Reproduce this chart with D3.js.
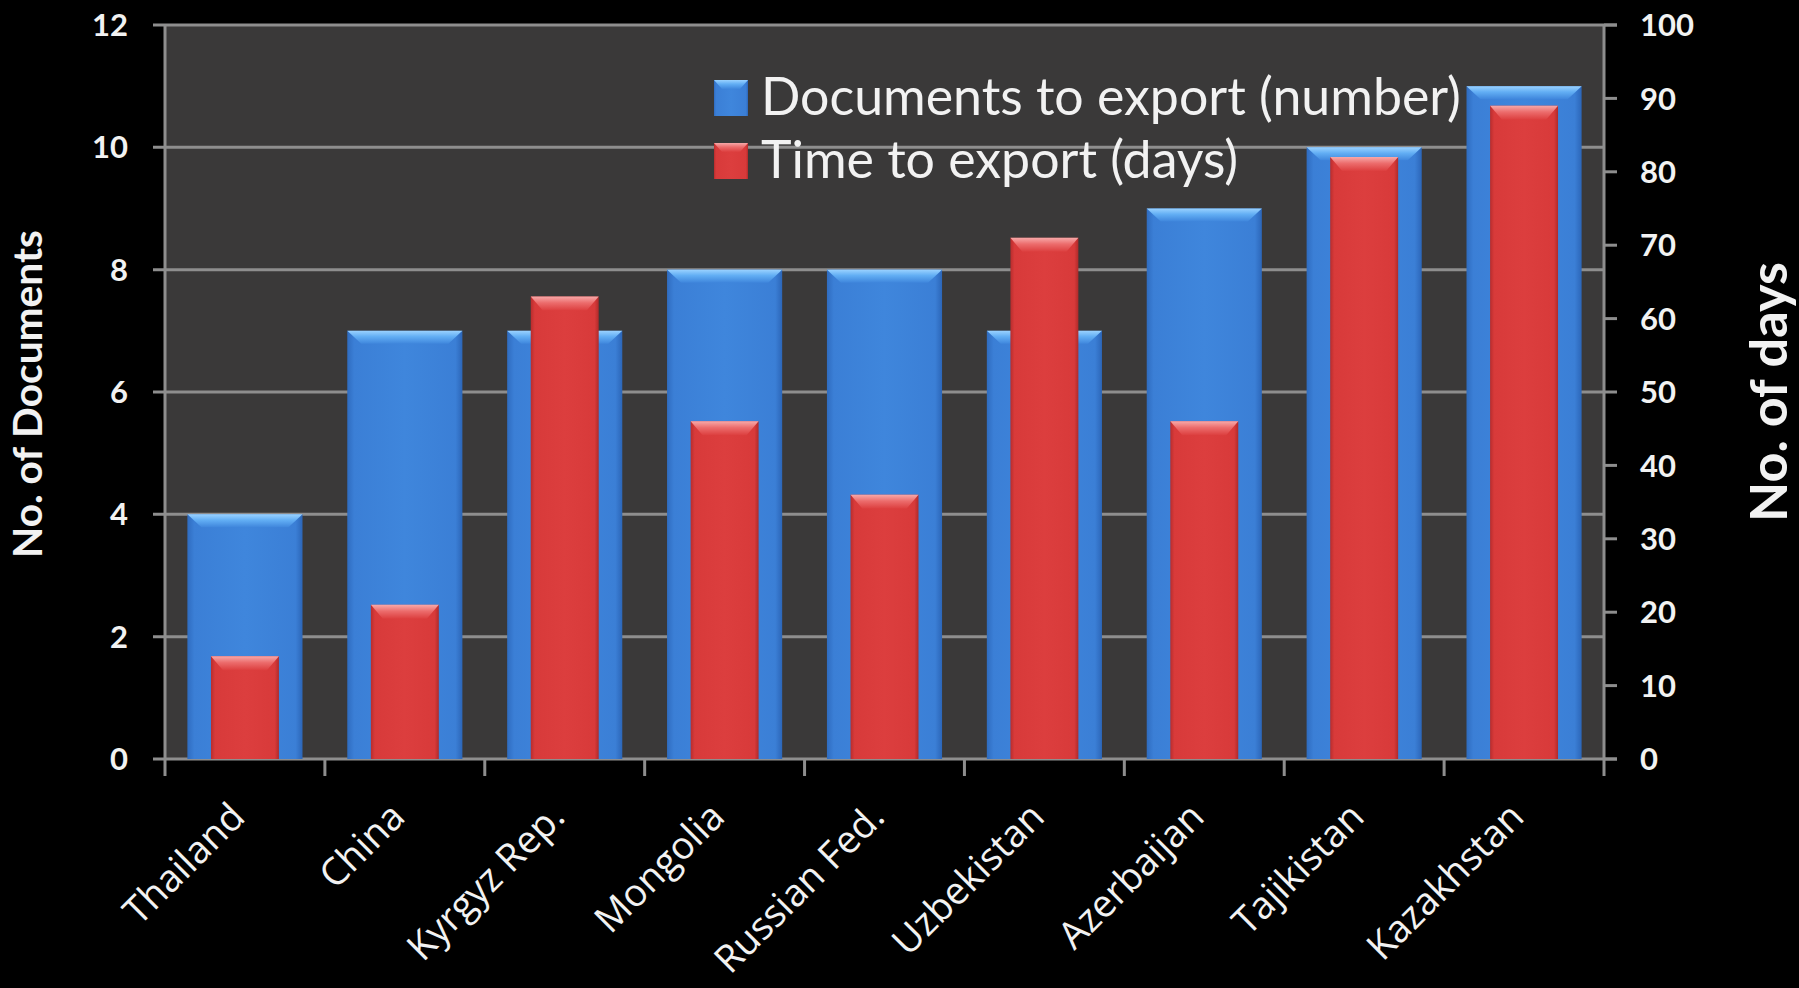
<!DOCTYPE html>
<html>
<head>
<meta charset="utf-8">
<script src="https://cdn.jsdelivr.net/npm/d3@7"></script>
<style>
  html, body { margin: 0; padding: 0; background: #000; }
  svg { display: block; }
  text { font-family: Lato, "Open Sans", sans-serif; fill: #f2f2f2; }
</style>
</head>
<body>
<svg id="chart" width="1799" height="988"></svg>
<script>
// ---- data ----
const categories = ["Thailand", "China", "Kyrgyz Rep.", "Mongolia", "Russian Fed.", "Uzbekistan", "Azerbaijan", "Tajikistan", "Kazakhstan"];
const documentsToExport = [4, 7, 7, 8, 8, 7, 9, 10, 11];
const timeToExport = [14, 21, 63, 46, 36, 71, 46, 82, 89];
const leftTicks = [0, 2, 4, 6, 8, 10, 12];
const rightTicks = [0, 10, 20, 30, 40, 50, 60, 70, 80, 90, 100];
const seriesNames = ["Documents to export (number)", "Time to export (days)"];
const leftTitle = "No. of Documents";
const rightTitle = "No. of days";

// ---- layout ----
const W = 1799, H = 988;
const plot = { left: 165, right: 1604, top: 25, bottom: 759 };
const svg = d3.select("#chart");

const defs = svg.append("defs");
function hGrad(id, stops) {
  const g = defs.append("linearGradient").attr("id", id).attr("x1", "0").attr("x2", "1").attr("y1", "0").attr("y2", "0");
  stops.forEach(s => g.append("stop").attr("offset", s[0]).attr("stop-color", s[1]));
}
function vGrad(id, stops) {
  const g = defs.append("linearGradient").attr("id", id).attr("x1", "0").attr("x2", "0").attr("y1", "0").attr("y2", "1");
  stops.forEach(s => g.append("stop").attr("offset", s[0]).attr("stop-color", s[1]));
}
hGrad("blueBody", [[0, "#2f6cc0"], [0.06, "#3b7fd6"], [0.5, "#3f86dc"], [0.94, "#3b7fd6"], [1, "#2c66b8"]]);
hGrad("redBody", [[0, "#b82d2d"], [0.06, "#d83a3a"], [0.5, "#dc3e3e"], [0.94, "#d83a3a"], [1, "#b02a2a"]]);
vGrad("blueTop", [[0, "#9ad2ff"], [0.45, "#62aef4"], [1, "#3f86dc"]]);
vGrad("redTop", [[0, "#f7a8a8"], [0.45, "#ec6c6c"], [1, "#dc3e3e"]]);

const x = d3.scaleBand().domain(categories).range([plot.left, plot.right]).padding(0);
const xBlue = d3.scaleBand().domain(categories).range([plot.left, plot.right]).paddingInner(0.28).paddingOuter(0.14);
const xRed = d3.scaleBand().domain(categories).range([plot.left, plot.right]).paddingInner(0.575).paddingOuter(0.2875);
const yL = d3.scaleLinear().domain([0, 12]).range([plot.bottom, plot.top]);
const yR = d3.scaleLinear().domain([0, 100]).range([plot.bottom, plot.top]);

// plot background
svg.append("rect").attr("x", plot.left).attr("y", plot.top)
  .attr("width", plot.right - plot.left).attr("height", plot.bottom - plot.top)
  .attr("fill", "#3a3939");

const gridColor = "#8e8e8e";
// horizontal gridlines (left axis ticks)
svg.append("g").selectAll("line").data(leftTicks.filter(d => d > 0)).join("line")
  .attr("x1", plot.left - 12).attr("x2", d => d === 12 ? plot.right + 13 : plot.right)
  .attr("y1", d => yL(d)).attr("y2", d => yL(d))
  .attr("stroke", gridColor).attr("stroke-width", 3);

// axis lines
svg.append("line").attr("x1", plot.left).attr("x2", plot.left).attr("y1", plot.top).attr("y2", plot.bottom + 17)
  .attr("stroke", gridColor).attr("stroke-width", 3);
svg.append("line").attr("x1", plot.right).attr("x2", plot.right).attr("y1", plot.top).attr("y2", plot.bottom + 17)
  .attr("stroke", gridColor).attr("stroke-width", 3);
svg.append("line").attr("x1", plot.left - 12).attr("x2", plot.right + 13).attr("y1", plot.bottom).attr("y2", plot.bottom)
  .attr("stroke", gridColor).attr("stroke-width", 3);
// x ticks at band boundaries
svg.append("g").selectAll("line").data(categories.slice(1)).join("line")
  .attr("x1", d => x(d)).attr("x2", d => x(d))
  .attr("y1", plot.bottom).attr("y2", plot.bottom + 17)
  .attr("stroke", gridColor).attr("stroke-width", 3);
// right ticks
svg.append("g").selectAll("line").data(rightTicks).join("line")
  .attr("x1", plot.right).attr("x2", plot.right + 13)
  .attr("y1", d => yR(d)).attr("y2", d => yR(d))
  .attr("stroke", gridColor).attr("stroke-width", 3);

// bars with beveled tops
function drawBar(g, x0, w, yTop, yBot, body, top, bevelH, inset) {
  g.append("rect").attr("x", x0).attr("y", yTop).attr("width", w).attr("height", yBot - yTop).attr("fill", `url(#${body})`);
  g.append("polygon")
    .attr("points", [[x0, yTop], [x0 + w, yTop], [x0 + w - inset, yTop + bevelH], [x0 + inset, yTop + bevelH]].map(p => p.join(",")).join(" "))
    .attr("fill", `url(#${top})`);
}
const barsG = svg.append("g");
categories.forEach((c, i) => {
  drawBar(barsG, xBlue(c), xBlue.bandwidth(), yL(documentsToExport[i]), plot.bottom, "blueBody", "blueTop", 13, 14);
});
categories.forEach((c, i) => {
  drawBar(barsG, xRed(c), xRed.bandwidth(), yR(timeToExport[i]), plot.bottom, "redBody", "redTop", 14, 12);
});

// left tick labels
svg.append("g").selectAll("text").data(leftTicks).join("text")
  .attr("x", 128).attr("y", d => yL(d)).attr("dy", "0.36em")
  .attr("text-anchor", "end").attr("font-size", 31).attr("font-weight", "bold")
  .text(d => d);
// right tick labels
svg.append("g").selectAll("text").data(rightTicks).join("text")
  .attr("x", 1640).attr("y", d => yR(d)).attr("dy", "0.36em")
  .attr("text-anchor", "start").attr("font-size", 31).attr("font-weight", "bold")
  .text(d => d);

function fitWidth(sel, target) {
  const fs = parseFloat(sel.attr("font-size"));
  const w = sel.node().getComputedTextLength();
  sel.attr("font-size", fs * target / w);
}

// x labels
svg.append("g").selectAll("text").data(categories).join("text")
  .attr("text-anchor", "end").attr("font-size", 38)
  .style("font-family", "'Open Sans', sans-serif")
  .attr("transform", d => `translate(${x(d) + x.bandwidth() / 2 + 2},${plot.bottom + 60}) rotate(-45)`)
  .text(d => d);

// axis titles
const lt = svg.append("text").attr("font-weight", "bold").attr("font-size", 36).attr("text-anchor", "middle")
  .attr("transform", `translate(42,394) rotate(-90)`).text(leftTitle);
fitWidth(lt, 328);
const rt = svg.append("text").attr("font-weight", "bold").attr("font-size", 40).attr("text-anchor", "middle")
  .attr("transform", `translate(1787,392) rotate(-90)`).text(rightTitle);
fitWidth(rt, 260);

// legend
const legend = svg.append("g");
const legendItems = [
  { name: seriesNames[0], body: "blueBody", top: "blueTop", y: 80, base: 115 },
  { name: seriesNames[1], body: "redBody", top: "redTop", y: 143, base: 178 }
];
legendItems.forEach(it => {
  legend.append("rect").attr("x", 714).attr("y", it.y).attr("width", 34).attr("height", 36).attr("fill", `url(#${it.body})`);
  legend.append("polygon")
    .attr("points", [[714, it.y], [748, it.y], [740, it.y + 9], [722, it.y + 9]].map(p => p.join(",")).join(" "))
    .attr("fill", `url(#${it.top})`);
});
const l1 = legend.append("text").attr("x", 761).attr("y", 115).attr("font-size", 50).text(seriesNames[0]);
fitWidth(l1, 700);
const l2 = legend.append("text").attr("x", 761).attr("y", 178).attr("font-size", l1.attr("font-size")).text(seriesNames[1]);
</script>
</body>
</html>
